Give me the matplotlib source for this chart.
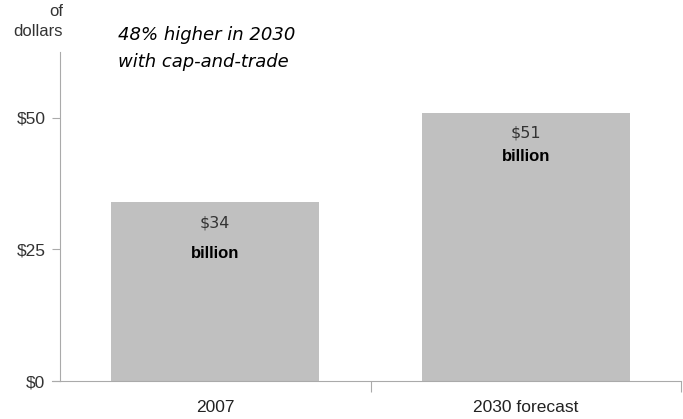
import matplotlib.pyplot as plt

categories = ["2007", "2030 forecast"]
values = [34, 51]
value_labels = ["$34", "$51"]
yticks = [0, 25, 50]
ytick_labels = ["$0", "$25", "$50"]

fig = plt.figure(figsize=(6.83, 4.19), dpi=100)
ax = fig.add_axes([60 / 683, 38 / 419, 621 / 683, 329 / 419])

x = range(len(categories))
ax.bar(x, values, width=0.67, color="#c0c0c0", zorder=2)

ax.set_xlim(-0.5, 1.5)
ax.set_ylim(0, 62.5)

for s in ["top", "right"]:
    ax.spines[s].set_visible(False)
ax.spines["left"].set_color("#aaaaaa")
ax.spines["bottom"].set_color("#aaaaaa")

ax.set_yticks(yticks)
ax.set_yticklabels(ytick_labels, fontsize=12.5, color="#333333",
                   family="Liberation Sans")
ax.tick_params(axis="y", length=6, color="#aaaaaa", pad=4.5)

# category boundaries get the ticks, names sit between them
ax.set_xticks([0.5, 1.5])
ax.set_xticklabels([])
ax.tick_params(axis="x", length=8, color="#aaaaaa")
for i, name in enumerate(categories):
    ax.text(i, -0.08, name, transform=ax.get_xaxis_transform(),
            ha="center", va="center", fontsize=12.5, color="#222222",
            family="Liberation Sans")

# extend the baseline left to the $0 tick
ax.plot([-0.525, -0.5], [0, 0], color="#aaaaaa", lw=0.8, clip_on=False)

# value labels inside the bars
offsets = [(4.0, 9.8), (3.9, 8.3)]
for i, (v, lab) in enumerate(zip(values, value_labels)):
    d1, d2 = offsets[i]
    ax.text(i, v - d1, lab, ha="center", va="center", fontsize=11.5,
            color="#333333", family="DejaVu Sans")
    ax.text(i, v - d2, "billion", ha="center", va="center", fontsize=12,
            color="black", family="Liberation Sans", fontweight="bold")

fig.text(63 / 683, 1 - 12 / 419, "of", ha="right", va="center",
         fontsize=12, color="#333333", family="Liberation Sans")
fig.text(63 / 683, 1 - 32 / 419, "dollars", ha="right", va="center",
         fontsize=12, color="#333333", family="Liberation Sans")

fig.text(118 / 683, 1 - 35 / 419, "48% higher in 2030", ha="left",
         va="center", fontsize=13, style="italic", color="black",
         family="DejaVu Sans")
fig.text(118 / 683, 1 - 62 / 419, "with cap-and-trade", ha="left",
         va="center", fontsize=13, style="italic", color="black",
         family="DejaVu Sans")

fig.savefig("out.png", dpi=100)
